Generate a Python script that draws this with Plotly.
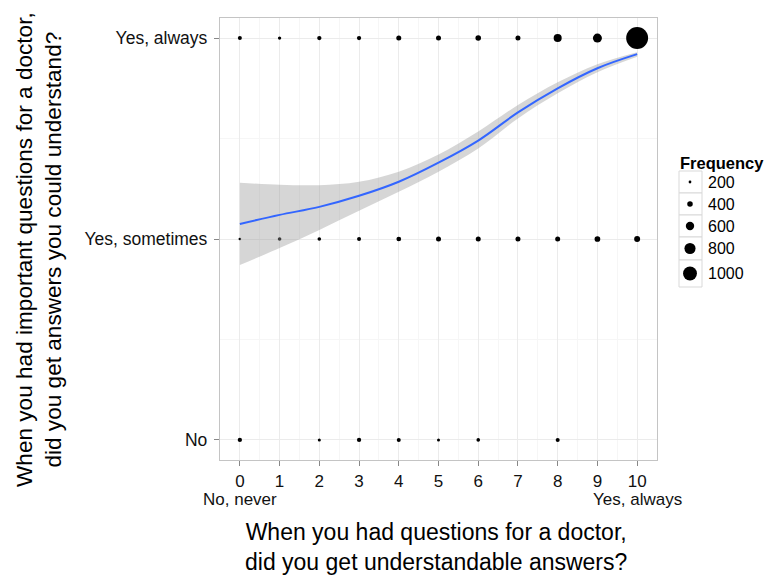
import plotly.graph_objects as go

# ---------------- data ----------------
x_scores = [0, 1, 2, 3, 4, 5, 6, 7, 8, 9, 10]
x_ticklabels = ["0", "1", "2", "3", "4", "5", "6", "7", "8", "9", "10"]
x_anchor_scores = [0, 10]
x_anchor_labels = ["No, never", "Yes, always"]
y_categories = ["No", "Yes, sometimes", "Yes, always"]   # coded 1, 2, 3

freq_always = [290, 240, 310, 310, 360, 360, 400, 360, 580, 650, 1580]
freq_sometimes = [190, 260, 260, 290, 340, 360, 360, 360, 360, 410, 430]
no_scores = [0, 2, 3, 4, 5, 6, 8]
freq_no = [310, 220, 310, 290, 220, 260, 290]

smooth_fit = [2.075, 2.12, 2.16, 2.215, 2.285, 2.38, 2.49, 2.63, 2.75, 2.85, 2.92]
smooth_upper = [2.28, 2.27, 2.268, 2.285, 2.335, 2.42, 2.535, 2.667, 2.78, 2.87, 2.93]
smooth_lower = [1.87, 1.955, 2.045, 2.14, 2.235, 2.335, 2.45, 2.60, 2.725, 2.83, 2.907]

legend_values = [200, 400, 600, 800, 1000]
legend_title = "Frequency"

x_title = "When you had questions for a doctor,<br>did you get understandable answers?"
y_title = "When you had important questions for a doctor,<br>did you get answers you could understand?"

# ---------------- style ----------------
FONT = "Liberation Sans, Arial, sans-serif"
SIZE_DIV = 72.0  # frequency -> marker diameter (px)

OFF = 8                     # page body margin of the browser
W, H = 772 - OFF, 576 - OFF  # figure size so it fits the window
# target screen positions of the panel
S_LEFT, S_TOP, S_RIGHT, S_BOTTOM = 220, 18, 657, 460
L, T = S_LEFT - OFF, S_TOP - OFF
B = H - (S_BOTTOM - OFF)


def sz(vals):
    return [v / SIZE_DIV for v in vals]


def px_x(p):  # screen pixel -> paper x
    return (p - S_LEFT) / (W - L)


def px_y(p):  # screen pixel -> paper y
    return (S_BOTTOM - p) / (S_BOTTOM - S_TOP)


pts_x = x_scores + x_scores + no_scores
pts_y = [3] * len(x_scores) + [2] * len(x_scores) + [1] * len(no_scores)
pts_f = freq_always + freq_sometimes + freq_no

fig = go.Figure()

fig.add_trace(go.Scatter(
    x=pts_x, y=pts_y, mode="markers",
    marker=dict(color="black", size=sz(pts_f), sizemode="diameter", opacity=1, line=dict(width=0)),
    showlegend=False, hoverinfo="skip"))

fig.add_trace(go.Scatter(
    x=x_scores, y=smooth_lower, mode="lines", line=dict(width=0, shape="spline"),
    showlegend=False, hoverinfo="skip"))
fig.add_trace(go.Scatter(
    x=x_scores, y=smooth_upper, mode="lines", line=dict(width=0, shape="spline"),
    fill="tonexty", fillcolor="rgba(153,153,153,0.4)",
    showlegend=False, hoverinfo="skip"))
fig.add_trace(go.Scatter(
    x=x_scores, y=smooth_fit, mode="lines", line=dict(color="#3366FF", width=2, shape="spline"),
    showlegend=False, hoverinfo="skip"))

# ---------------- manual legend (screen-pixel secondary axes) ----------------
key_tops = [171, 193, 215, 237, 260]
key_bottoms = [193, 215, 237, 260, 287]
key_cy = [(a + b) / 2 for a, b in zip(key_tops, key_bottoms)]
fig.add_trace(go.Scatter(
    x=[690] * len(legend_values), y=key_cy, mode="markers",
    marker=dict(color="black", size=sz(legend_values), sizemode="diameter", opacity=1, line=dict(width=0)),
    xaxis="x2", yaxis="y2", showlegend=False, hoverinfo="skip"))

shapes = []
for t, b in zip(key_tops, key_bottoms):
    shapes.append(dict(type="rect", xref="x2", yref="y2", x0=679, x1=702, y0=t, y1=b,
                       line=dict(color="#d9d9d9", width=1), fillcolor="white", layer="below"))

annotations = [dict(xref="x2", yref="y2", x=678, y=163, text="<b>%s</b>" % legend_title,
                    showarrow=False, xanchor="left", yanchor="middle",
                    font=dict(family=FONT, size=16.5, color="black"))]
for v, cy in zip(legend_values, key_cy):
    annotations.append(dict(xref="x2", yref="y2", x=706, y=cy, text=str(v), showarrow=False,
                            xanchor="left", yanchor="middle",
                            font=dict(family=FONT, size=16, color="black")))

for s, lab in zip(x_anchor_scores, x_anchor_labels):
    annotations.append(dict(xref="x", yref="paper", x=s, y=px_y(488), text=lab, showarrow=False,
                            xanchor="center", yanchor="top",
                            font=dict(family=FONT, size=17, color="#111111")))

annotations.append(dict(xref="paper", yref="paper", x=px_x(436), y=px_y(547), text=x_title,
                        showarrow=False, xanchor="center", yanchor="middle",
                        font=dict(family=FONT, size=23, color="black")))
annotations.append(dict(xref="paper", yref="paper", x=px_x(39), y=px_y(250), text=y_title,
                        showarrow=False, xanchor="center", yanchor="middle", textangle=-90,
                        font=dict(family=FONT, size=22.6, color="black")))

fig.update_layout(
    width=W, height=H,
    margin=dict(l=L, r=0, t=T, b=B, pad=0),
    paper_bgcolor="white", plot_bgcolor="white",
    font=dict(family=FONT, size=17, color="black"),
    shapes=shapes, annotations=annotations,
    xaxis=dict(
        domain=[0, px_x(S_RIGHT)], range=[-0.5, 10.5], tickmode="array", tickvals=x_scores,
        ticktext=x_ticklabels, tickangle=0, ticks="outside", ticklen=5, tickcolor="#888888",
        tickfont=dict(size=17, color="#111111"), automargin=False,
        showgrid=True, gridcolor="#ebebeb", gridwidth=1,
        minor=dict(dtick=0.5, showgrid=True, gridcolor="#f6f6f6", gridwidth=1),
        zeroline=False, showline=True, mirror=True, linecolor="#c4c4c4", linewidth=1.3,
    ),
    yaxis=dict(
        range=[0.9, 3.1], tickmode="array", tickvals=[1, 2, 3], ticktext=y_categories,
        ticks="outside", ticklen=5, tickcolor="#888888", ticklabelstandoff=3,
        tickfont=dict(size=17.5, color="#111111"), automargin=False,
        showgrid=True, gridcolor="#ebebeb", gridwidth=1,
        minor=dict(tickvals=[1.5, 2.5], showgrid=True, gridcolor="#f6f6f6", gridwidth=1),
        zeroline=False, showline=True, mirror=True, linecolor="#c4c4c4", linewidth=1.3,
    ),
    xaxis2=dict(domain=[px_x(672), 1], range=[672, 772], visible=False, anchor="y2"),
    yaxis2=dict(domain=[0, 1], range=[S_BOTTOM, S_TOP], visible=False, anchor="x2"),
)

fig.write_html("out.html")
